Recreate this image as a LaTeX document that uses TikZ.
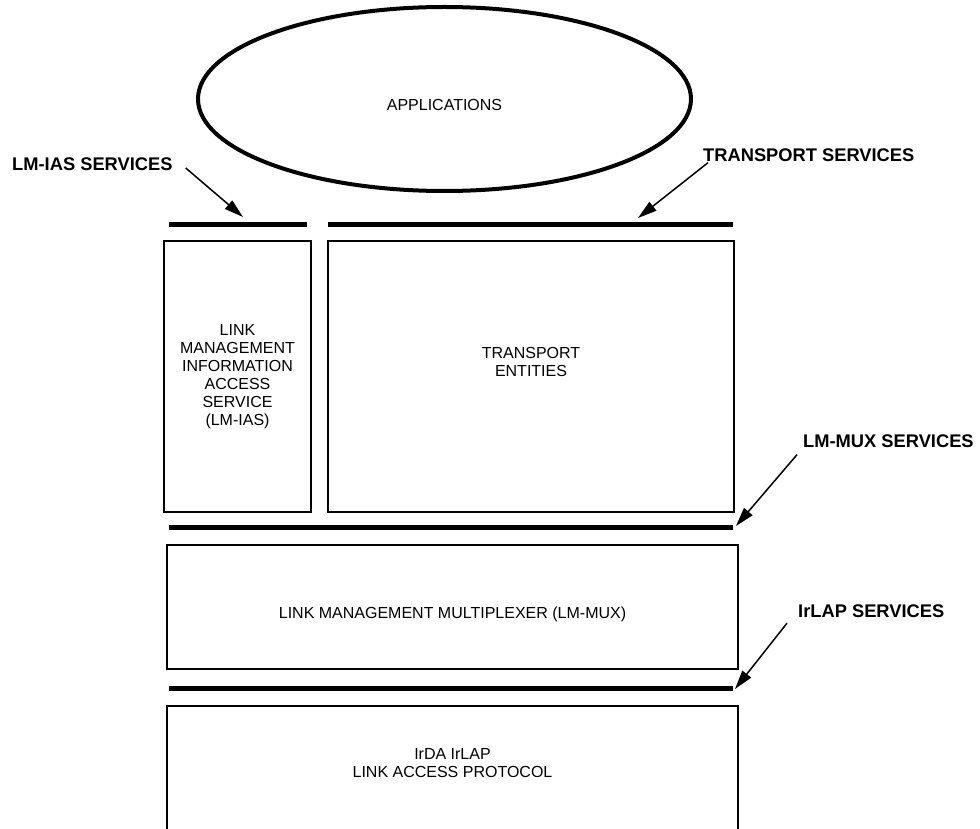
\documentclass[tikz,border=0pt]{standalone}
\usepackage{fontspec}
\setmainfont{Liberation Sans}
\usetikzlibrary{shapes.geometric,arrows.meta}

\begin{document}
\begin{tikzpicture}[x=1pt, y=-1pt,
    box/.style={draw=black, line width=1.8pt, inner sep=0pt},
    bar/.style={fill=black, inner sep=0pt, minimum height=5pt},
    boxtext/.style={align=center, font=\fontsize{16}{18}\selectfont},
    svc/.style={inner sep=0pt, anchor=west, font=\fontsize{18.3}{21}\selectfont\bfseries},
    svcarrow/.style={line width=1.5pt, -{Triangle[length=19pt,width=11pt]}}]

      \useasboundingbox (0,0) rectangle (980,829);
      \clip (0,0) rectangle (980,829);

      \node (apps) at (444.5,99) [draw=black, ellipse, line width=4pt,
      minimum width=493pt, minimum height=184pt] {};

      \node (appstext) at (444.5,105) [boxtext] {APPLICATIONS};

      \node (iaslbl) at (12,164.5) [svc] {LM-IAS SERVICES};

      \node (trnlbl) at (703,155) [svc] {TRANSPORT SERVICES};

      \node (muxlbl) at (803,441) [svc] {LM-MUX SERVICES};

      \node (laplbl) at (798,611.5) [svc] {IrLAP SERVICES};

      \node (iasbar) at (238,224.5) [bar, minimum width=138pt] {};

      \node (trnbar) at (530.5,224.5) [bar, minimum width=405pt] {};

      \node (muxbar) at (451,527) [bar, minimum width=564pt] {};

      \node (lapbar) at (451,688) [bar, minimum width=564pt] {};

      \node (iasbox) at (237.5,376.5) [box, minimum width=147pt,
      minimum height=271pt] {};

      \node (trnbox) at (531,376.5) [box, minimum width=406pt,
      minimum height=271pt] {};

      \node (muxbox) at (452.5,607) [box, minimum width=571pt,
      minimum height=124pt] {};

      \node (lapbox) at (452.5,776) [box, minimum width=571pt,
      minimum height=140pt] {};

      \node (iastext) at (iasbox) [boxtext]
      {LINK\\MANAGEMENT\\INFORMATION\\ACCESS\\SERVICE\\(LM-IAS)};

      \node (trntext) at (531,362) [boxtext] {TRANSPORT\\ENTITIES};

      \node (muxtext) at (452.5,614) [boxtext]
      {LINK MANAGEMENT MULTIPLEXER (LM-MUX)};

      \node (laptext) at (452.5,763) [boxtext]
      {IrDA IrLAP\\LINK ACCESS PROTOCOL};

      \coordinate (iastip) at (243,217);
      \coordinate (trntip) at (638,218);
      \coordinate (muxtip) at (736,526);
      \coordinate (laptip) at (735,689);

      \draw[svcarrow] ([xshift=13pt,yshift=-3.5pt]iaslbl.east) -- (iastip);

      \draw[svcarrow] ([xshift=5pt,yshift=-1pt]trnlbl.south west) -- (trntip);

      \draw[svcarrow] ([xshift=-6pt,yshift=-7pt]muxlbl.south west) -- (muxtip);

      \draw[svcarrow] ([xshift=-11pt,yshift=-5pt]laplbl.south west) -- (laptip);
    \end{tikzpicture}
\end{document}
